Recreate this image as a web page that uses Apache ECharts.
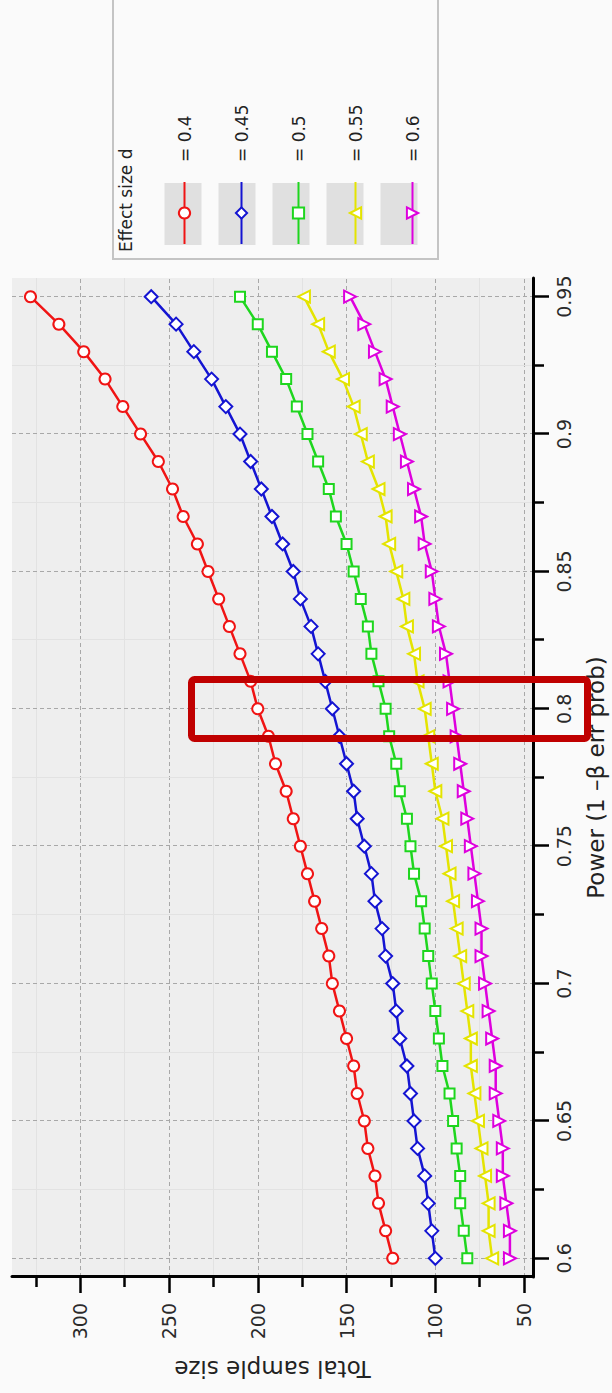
<!DOCTYPE html>
<html>
<head>
<meta charset="utf-8">
<script src="https://cdn.jsdelivr.net/npm/echarts@6/dist/echarts.min.js"></script>
<style>
html, body { margin: 0; padding: 0; width: 612px; height: 1393px; overflow: hidden; background: #fafafa; }
#chart { position: absolute; left: 0; top: 0; width: 1393px; height: 612px;
  transform-origin: 0 0; transform: translate(0, 1393px) rotate(-90deg); background: #fafafa; }
</style>
</head>
<body>
<div id="chart"></div>
<script>
// ---- data ----
const powerValues = [0.60, 0.61, 0.62, 0.63, 0.64, 0.65, 0.66, 0.67, 0.68, 0.69,
                     0.70, 0.71, 0.72, 0.73, 0.74, 0.75, 0.76, 0.77, 0.78, 0.79,
                     0.80, 0.81, 0.82, 0.83, 0.84, 0.85, 0.86, 0.87, 0.88, 0.89,
                     0.90, 0.91, 0.92, 0.93, 0.94, 0.95];
const effectSizeLabels = ['= 0.4', '= 0.45', '= 0.5', '= 0.55', '= 0.6'];
const sizeD040 = [124, 128, 132, 134, 138, 140, 144, 146, 150, 154, 158, 160, 164, 168, 172, 176, 180, 184, 190, 194,
                  200, 204, 210, 216, 222, 228, 234, 242, 248, 256, 266, 276, 286, 298, 312, 328];
const sizeD045 = [100, 102, 104, 106, 110, 112, 114, 116, 120, 122, 124, 128, 130, 134, 136, 140, 144, 146, 150, 154,
                  158, 162, 166, 170, 176, 180, 186, 192, 198, 204, 210, 218, 226, 236, 246, 260];
const sizeD050 = [82, 84, 86, 86, 88, 90, 92, 96, 98, 100, 102, 104, 106, 108, 112, 114, 116, 120, 122, 126,
                  128, 132, 136, 138, 142, 146, 150, 156, 160, 166, 172, 178, 184, 192, 200, 210];
const sizeD055 = [68, 70, 70, 72, 74, 76, 78, 80, 80, 82, 84, 86, 88, 90, 92, 94, 96, 100, 102, 104,
                  106, 110, 112, 116, 118, 122, 126, 128, 132, 138, 142, 146, 152, 160, 166, 174];
const sizeD060 = [58, 58, 60, 62, 62, 64, 66, 66, 68, 70, 72, 74, 74, 76, 78, 80, 82, 84, 86, 88,
                  90, 92, 94, 98, 100, 102, 106, 108, 112, 116, 120, 124, 128, 134, 140, 148];
const powerMajorTicks = [0.6, 0.65, 0.7, 0.75, 0.8, 0.85, 0.9, 0.95];
const powerMinorTicks = [0.625, 0.675, 0.725, 0.775, 0.825, 0.875, 0.925];
const sizeMajorTicks = [50, 100, 150, 200, 250, 300];
const sizeMinorTicks = [75, 125, 175, 225, 275, 325];
const powerRange = [0.5932, 0.9568];
const sizeRange = [45, 338.4];

// ---- styling ----
const FONT = 'DejaVu Sans';
const seriesStyles = [
  { color: '#f01414', symbol: 'emptyCircle', size: 11, rotate: 0 },
  { color: '#1414d2', symbol: 'emptyDiamond', size: 13, rotate: 0 },
  { color: '#1ed61e', symbol: 'emptyRect', size: 10, rotate: 0 },
  { color: '#e4e400', symbol: 'emptyTriangle', size: 12, rotate: 0 },
  { color: '#de00de', symbol: 'emptyTriangle', size: 12, rotate: 180 }
];
const allSizes = [sizeD040, sizeD045, sizeD050, sizeD055, sizeD060];

const series = allSizes.map((vals, k) => {
  const st = seriesStyles[k];
  return {
    type: 'line',
    name: effectSizeLabels[k],
    xAxisIndex: 0, yAxisIndex: 0,
    data: powerValues.map((p, i) => [p, vals[i]]),
    symbol: st.symbol, symbolSize: st.size, symbolRotate: st.rotate,
    showSymbol: true,
    lineStyle: { color: st.color, width: 2.5 },
    itemStyle: { color: st.color, borderColor: st.color, borderWidth: 2.5 },
    emphasis: { disabled: true },
    z: 3 + k
  };
});

// legend layout (in the unrotated frame)
const legendLeft = 1148, legendFirstCenter = 183, legendStep = 54;
const swatches = effectSizeLabels.map((_, k) => ({
  type: 'rect', z: 2,
  shape: { x: legendLeft, y: legendFirstCenter + k * legendStep - 18.5, width: 62, height: 37 },
  style: { fill: '#e0e0e0' }
}));

const chart = echarts.init(document.getElementById('chart'), null, { renderer: 'svg', width: 1393, height: 612 });
chart.setOption({
  animation: false,
  backgroundColor: '#fafafa',
  title: {
    text: 'Effect size d', left: 1141, top: 117, padding: 0,
    textStyle: { fontFamily: FONT, fontSize: 17, fontWeight: 'normal', color: '#222' }
  },
  legend: {
    orient: 'vertical', left: legendLeft, top: legendFirstCenter - 7, padding: 0,
    itemWidth: 62, itemHeight: 14, itemGap: legendStep - 14,
    data: effectSizeLabels, selectedMode: false,
    textStyle: { fontFamily: FONT, fontSize: 17, color: '#222', padding: [0, 0, 0, 15] }
  },
  grid: {
    left: 116, right: 278, top: 12, bottom: 73,
    show: true, backgroundColor: '#eeeeee', borderWidth: 0
  },
  xAxis: [{
    type: 'value', min: powerRange[0], max: powerRange[1],
    name: 'Power (1 –β err prob)', nameLocation: 'middle', nameGap: 51,
    nameTextStyle: { fontFamily: FONT, fontSize: 23, color: '#222' },
    axisLine: { show: true, onZero: false, lineStyle: { color: '#000', width: 3 } },
    axisTick: { show: true, inside: false, length: 16, customValues: powerMajorTicks, lineStyle: { color: '#000', width: 2.5 } },
    axisLabel: { show: true, margin: 21, customValues: powerMajorTicks, fontFamily: FONT, fontSize: 19, color: '#2a2a2a',
                 formatter: v => String(Number(v.toFixed(2))) },
    splitLine: { show: true, lineStyle: { color: '#a8a8a8', width: 1, type: [4, 3] } }
  }, {
    type: 'value', min: powerRange[0], max: powerRange[1], position: 'bottom',
    axisLine: { show: false },
    axisTick: { show: true, inside: false, length: 11, customValues: powerMinorTicks, lineStyle: { color: '#000', width: 2.5 } },
    axisLabel: { show: false, customValues: powerMinorTicks },
    splitLine: { show: true, lineStyle: { color: '#e2e2e2', width: 1 } }
  }],
  yAxis: [{
    type: 'value', min: sizeRange[0], max: sizeRange[1],
    name: 'Total sample size', nameLocation: 'middle', nameGap: 80,
    nameTextStyle: { fontFamily: FONT, fontSize: 23, color: '#222' },
    axisLine: { show: true, onZero: false, lineStyle: { color: '#000', width: 3 } },
    axisTick: { show: true, inside: false, length: 16, customValues: sizeMajorTicks, lineStyle: { color: '#000', width: 2.5 } },
    axisLabel: { show: true, margin: 26, customValues: sizeMajorTicks, fontFamily: FONT, fontSize: 19, color: '#2a2a2a' },
    splitLine: { show: true, lineStyle: { color: '#a8a8a8', width: 1, type: [4, 3] } }
  }, {
    type: 'value', min: sizeRange[0], max: sizeRange[1], position: 'left',
    axisLine: { show: false },
    axisTick: { show: true, inside: false, length: 10, customValues: sizeMinorTicks, lineStyle: { color: '#000', width: 2.5 } },
    axisLabel: { show: false, customValues: sizeMinorTicks },
    splitLine: { show: true, lineStyle: { color: '#e2e2e2', width: 1 } }
  }],
  graphic: [
    { type: 'rect', z: 1, shape: { x: 1134, y: 113, width: 300, height: 325 },
      style: { fill: '#fafafa', stroke: '#c4c4c4', lineWidth: 2 } },
    ...swatches,
    { type: 'rect', z: 100, shape: { x: 654.5, y: 191.5, width: 59, height: 396, r: 3 },
      style: { fill: 'none', stroke: '#c00000', lineWidth: 7 } }
  ],
  series: series
});
</script>
</body>
</html>
